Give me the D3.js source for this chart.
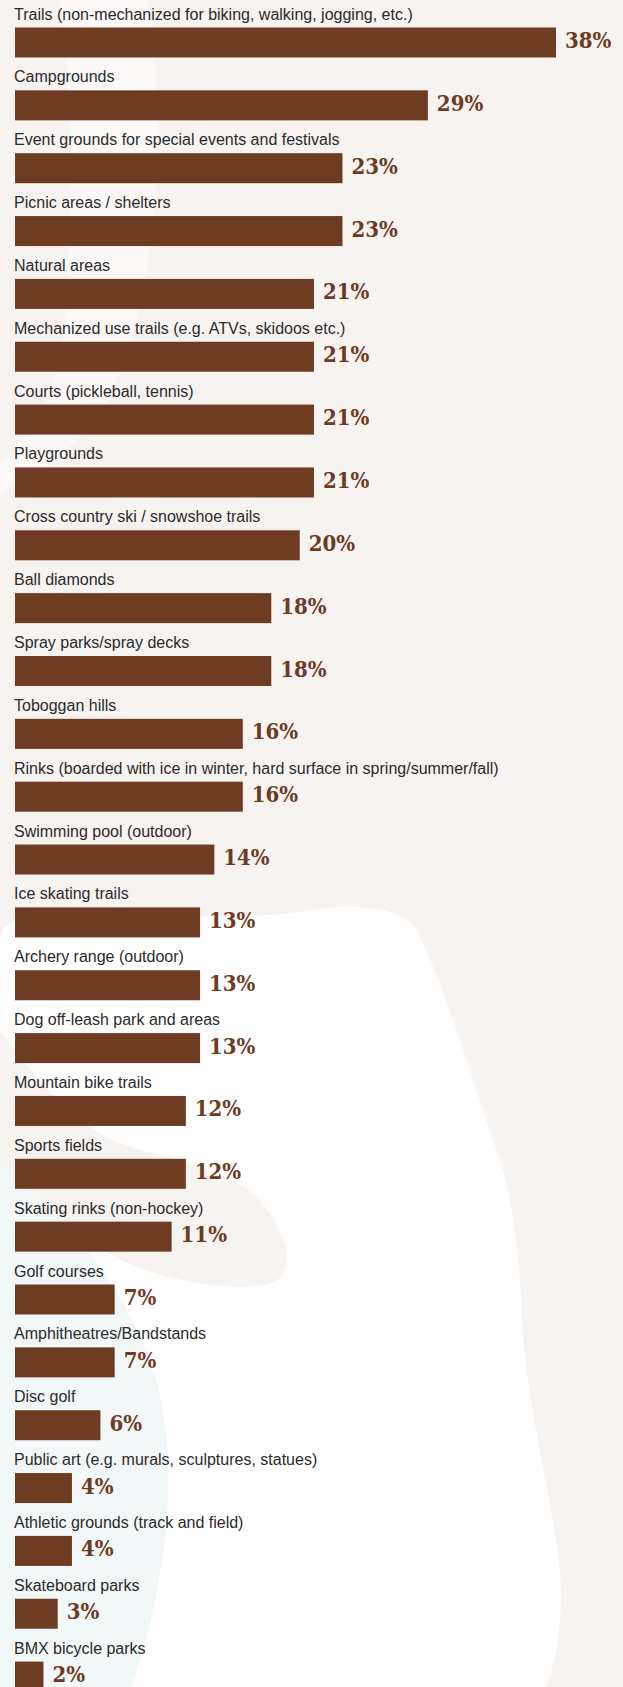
<!DOCTYPE html>
<html>
<head>
<meta charset="utf-8">
<script src="https://cdn.jsdelivr.net/npm/d3@7"></script>
<style>
  html, body { margin: 0; padding: 0; background: #f7f3f1; }
  svg { display: block; }
  .cat { font-family: "Liberation Sans", Arial, sans-serif; font-size: 16px; fill: #2b2b2b; }
  .val { font-family: "DejaVu Serif Condensed", "DejaVu Serif", serif; font-stretch: condensed; font-weight: bold; font-size: 22px; fill: #6d3a22; }
</style>
</head>
<body>
<svg id="chart"></svg>
<script>
// Amenity categories, top to bottom
const categories = [
  "Trails (non-mechanized for biking, walking, jogging, etc.)",
  "Campgrounds",
  "Event grounds for special events and festivals",
  "Picnic areas / shelters",
  "Natural areas",
  "Mechanized use trails (e.g. ATVs, skidoos etc.)",
  "Courts (pickleball, tennis)",
  "Playgrounds",
  "Cross country ski / snowshoe trails",
  "Ball diamonds",
  "Spray parks/spray decks",
  "Toboggan hills",
  "Rinks (boarded with ice in winter, hard surface in spring/summer/fall)",
  "Swimming pool (outdoor)",
  "Ice skating trails",
  "Archery range (outdoor)",
  "Dog off-leash park and areas",
  "Mountain bike trails",
  "Sports fields",
  "Skating rinks (non-hockey)",
  "Golf courses",
  "Amphitheatres/Bandstands",
  "Disc golf",
  "Public art (e.g. murals, sculptures, statues)",
  "Athletic grounds (track and field)",
  "Skateboard parks",
  "BMX bicycle parks"
];

// Share of respondents (%)
const percents = [38, 29, 23, 23, 21, 21, 21, 21, 20, 18, 18, 16, 16, 14, 13, 13, 13, 12, 12, 11, 7, 7, 6, 4, 4, 3, 2];

const width = 623, height = 1687;
const rowStep = 62.85, barH = 30, firstBarTop = 27.5;

const svg = d3.select("#chart").attr("width", width).attr("height", height);

// Soft decorative backdrop shapes
const bg = svg.append("g");
bg.append("rect").attr("width", width).attr("height", height).attr("fill", "#f7f3f1");
bg.append("path")
  .attr("d", "M148 0 C172 150 150 330 102 410 C72 452 32 480 0 492 L0 462 C30 440 55 400 64 330 C74 200 72 100 60 0 Z")
  .attr("fill", "#ffffff").attr("opacity", 0.45);
bg.append("path")
  .attr("d", "M0 945 C0 928 6 922 22 921 L270 915 C300 913 330 905 357 907 C385 909 402 913 414 926 C442 975 472 1080 500 1160 C515 1210 520 1262 522 1320 C526 1400 548 1480 559 1560 C565 1620 556 1660 546 1687 L0 1687 Z")
  .attr("fill", "#ffffff");
bg.append("path")
  .attr("d", "M0 1030 C40 1085 80 1130 125 1145 C170 1160 228 1168 258 1198 C284 1228 296 1262 280 1278 C264 1292 220 1287 188 1281 C150 1274 118 1262 90 1240 L0 1240 Z")
  .attr("fill", "#f7f3f1");
bg.append("path")
  .attr("d", "M0 1165 C55 1205 115 1270 150 1360 C175 1430 172 1520 155 1600 C148 1635 138 1665 132 1687 L0 1687 Z")
  .attr("fill", "#f2f7f7");

const x = d3.scaleLinear().domain([0, 38]).range([15, 556]);
const y = d3.scaleBand()
  .domain(categories)
  .range([firstBarTop, firstBarTop + rowStep * categories.length])
  .paddingInner(0).paddingOuter(0);

const data = categories.map((c, i) => ({ cat: c, val: percents[i] }));

const rows = svg.append("g").selectAll("g.row").data(data).join("g").attr("class", "row");

rows.append("rect")
  .attr("x", x(0))
  .attr("y", d => y(d.cat))
  .attr("width", d => x(d.val) - x(0))
  .attr("height", barH)
  .attr("fill", "#6e3b23");

rows.append("text")
  .attr("class", "cat")
  .attr("x", 14)
  .attr("y", d => y(d.cat) - 8)
  .text(d => d.cat);

rows.append("text")
  .attr("class", "val")
  .attr("x", d => x(d.val) + 9)
  .attr("y", d => y(d.cat) + 20.5)
  .text(d => d.val + "%");
</script>
</body>
</html>
